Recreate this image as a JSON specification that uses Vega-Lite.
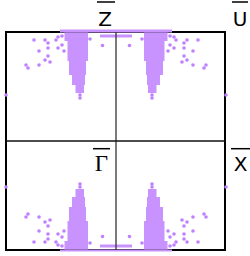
{
  "$schema": "https://vega.github.io/schema/vega-lite/v6.json",
  "width": 219,
  "height": 218,
  "autosize": {"type": "none"},
  "padding": {"left": 6, "top": 32, "right": 25, "bottom": 6},
  "config": {"view": {"stroke": "black", "strokeWidth": 2}},
  "datasets": {
    "slabs": [
      {"x": -56, "x2": 56, "y": 108.5, "y2": 111.5},
      {"x": -16, "x2": 16, "y": 103.5, "y2": 106.5},
      {"x": -51.5, "x2": -28, "y": 100, "y2": 108.5},
      {"x": -48.5, "x2": -28, "y": 80, "y2": 100},
      {"x": -47, "x2": -30, "y": 66, "y2": 80},
      {"x": -44, "x2": -31, "y": 56, "y2": 66},
      {"x": -40.5, "x2": -32, "y": 48, "y2": 56},
      {"x": 28, "x2": 51.5, "y": 100, "y2": 108.5},
      {"x": 28, "x2": 48.5, "y": 80, "y2": 100},
      {"x": 30, "x2": 47, "y": 66, "y2": 80},
      {"x": 31, "x2": 44, "y": 56, "y2": 66},
      {"x": 32, "x2": 40.5, "y": 48, "y2": 56},
      {"x": -56, "x2": 56, "y": -110.5, "y2": -108.5},
      {"x": -16, "x2": 16, "y": -106.5, "y2": -103.5},
      {"x": -51.5, "x2": -28, "y": -108.5, "y2": -100},
      {"x": -48.5, "x2": -28, "y": -100, "y2": -80},
      {"x": -47, "x2": -30, "y": -80, "y2": -66},
      {"x": -44, "x2": -31, "y": -66, "y2": -56},
      {"x": -40.5, "x2": -32, "y": -56, "y2": -48},
      {"x": 28, "x2": 51.5, "y": -108.5, "y2": -100},
      {"x": 28, "x2": 48.5, "y": -100, "y2": -80},
      {"x": 30, "x2": 47, "y": -80, "y2": -66},
      {"x": 31, "x2": 44, "y": -66, "y2": -56},
      {"x": 32, "x2": 40.5, "y": -56, "y2": -48}
    ],
    "dots": [
      {"x": -82, "y": 101}, {"x": -71, "y": 101}, {"x": -68, "y": 98}, {"x": -60, "y": 101},
      {"x": -58, "y": 104}, {"x": -58, "y": 93}, {"x": -68, "y": 93}, {"x": -77, "y": 90},
      {"x": -68, "y": 85}, {"x": -71, "y": 81}, {"x": -66, "y": 79}, {"x": -90, "y": 76},
      {"x": -88, "y": 73}, {"x": -77, "y": 76}, {"x": -54, "y": 96}, {"x": -52, "y": 90},
      {"x": -54, "y": 105}, {"x": -26, "y": 102}, {"x": -13.5, "y": 95.5}, {"x": -110, "y": 46},
      {"x": -36, "y": 46}, {"x": -36, "y": 43},
      {"x": 82, "y": 101}, {"x": 71, "y": 101}, {"x": 68, "y": 98}, {"x": 60, "y": 101},
      {"x": 58, "y": 104}, {"x": 58, "y": 93}, {"x": 68, "y": 93}, {"x": 77, "y": 90},
      {"x": 68, "y": 85}, {"x": 71, "y": 81}, {"x": 66, "y": 79}, {"x": 90, "y": 76},
      {"x": 88, "y": 73}, {"x": 77, "y": 76}, {"x": 54, "y": 96}, {"x": 52, "y": 90},
      {"x": 54, "y": 105}, {"x": 26, "y": 102}, {"x": 13.5, "y": 95.5}, {"x": 110, "y": 46},
      {"x": 36, "y": 46}, {"x": 36, "y": 43},
      {"x": -82, "y": -101}, {"x": -71, "y": -101}, {"x": -68, "y": -98}, {"x": -60, "y": -101},
      {"x": -58, "y": -104}, {"x": -58, "y": -93}, {"x": -68, "y": -93}, {"x": -77, "y": -90},
      {"x": -68, "y": -85}, {"x": -71, "y": -81}, {"x": -66, "y": -79}, {"x": -90, "y": -76},
      {"x": -88, "y": -73}, {"x": -77, "y": -76}, {"x": -54, "y": -96}, {"x": -52, "y": -90},
      {"x": -54, "y": -105}, {"x": -26, "y": -102}, {"x": -13.5, "y": -95.5}, {"x": -110, "y": -46},
      {"x": -36, "y": -46}, {"x": -36, "y": -43},
      {"x": 82, "y": -101}, {"x": 71, "y": -101}, {"x": 68, "y": -98}, {"x": 60, "y": -101},
      {"x": 58, "y": -104}, {"x": 58, "y": -93}, {"x": 68, "y": -93}, {"x": 77, "y": -90},
      {"x": 68, "y": -85}, {"x": 71, "y": -81}, {"x": 66, "y": -79}, {"x": 90, "y": -76},
      {"x": 88, "y": -73}, {"x": 77, "y": -76}, {"x": 54, "y": -96}, {"x": 52, "y": -90},
      {"x": 54, "y": -105}, {"x": 26, "y": -102}, {"x": 13.5, "y": -95.5}, {"x": 110, "y": -46},
      {"x": 36, "y": -46}, {"x": 36, "y": -43}
    ],
    "sans": [
      {"x": -11, "y": 115, "t": "Z"},
      {"x": 124, "y": 115, "t": "U"},
      {"x": 124.5, "y": -30, "t": "X"}
    ],
    "serif": [
      {"x": -14.5, "y": -30, "t": "\u0393"}
    ],
    "bars": [
      {"x": -19, "x2": -1, "y": 139},
      {"x": 116, "x2": 132, "y": 139},
      {"x": -23, "x2": -6, "y": -7.7},
      {"x": 115, "x2": 134, "y": -7.7}
    ]
  },
  "layer": [
    {
      "data": {"name": "slabs"},
      "mark": {"type": "rect", "color": "#c993ff", "clip": false},
      "encoding": {
        "x": {"field": "x", "type": "quantitative", "scale": {"domain": [-110, 109], "nice": false, "zero": false}, "axis": null},
        "x2": {"field": "x2"},
        "y": {"field": "y", "type": "quantitative", "scale": {"domain": [-109, 109], "nice": false, "zero": false}, "axis": null},
        "y2": {"field": "y2"}
      }
    },
    {
      "data": {"name": "dots"},
      "mark": {"type": "circle", "color": "#c080ff", "opacity": 1, "size": 13, "clip": false},
      "encoding": {
        "x": {"field": "x", "type": "quantitative"},
        "y": {"field": "y", "type": "quantitative"}
      }
    },
    {
      "data": {"values": [{"x": 0}]},
      "mark": {"type": "rule", "color": "#333", "strokeWidth": 1.3},
      "encoding": {"x": {"field": "x", "type": "quantitative"}}
    },
    {
      "data": {"values": [{"y": 0}]},
      "mark": {"type": "rule", "color": "#111", "strokeWidth": 1.3},
      "encoding": {"y": {"field": "y", "type": "quantitative"}}
    },
    {
      "data": {"name": "bars"},
      "mark": {"type": "rule", "color": "black", "strokeWidth": 1.5, "clip": false},
      "encoding": {
        "x": {"field": "x", "type": "quantitative"},
        "x2": {"field": "x2"},
        "y": {"field": "y", "type": "quantitative"}
      }
    },
    {
      "data": {"name": "sans"},
      "mark": {"type": "text", "font": "DejaVu Sans", "fontSize": 20, "color": "black", "align": "center", "baseline": "alphabetic", "clip": false},
      "encoding": {
        "x": {"field": "x", "type": "quantitative"},
        "y": {"field": "y", "type": "quantitative"},
        "text": {"field": "t"}
      }
    },
    {
      "data": {"name": "serif"},
      "mark": {"type": "text", "font": "Liberation Serif", "fontSize": 23, "color": "black", "align": "center", "baseline": "alphabetic", "clip": false},
      "encoding": {
        "x": {"field": "x", "type": "quantitative"},
        "y": {"field": "y", "type": "quantitative"},
        "text": {"field": "t"}
      }
    }
  ]
}
